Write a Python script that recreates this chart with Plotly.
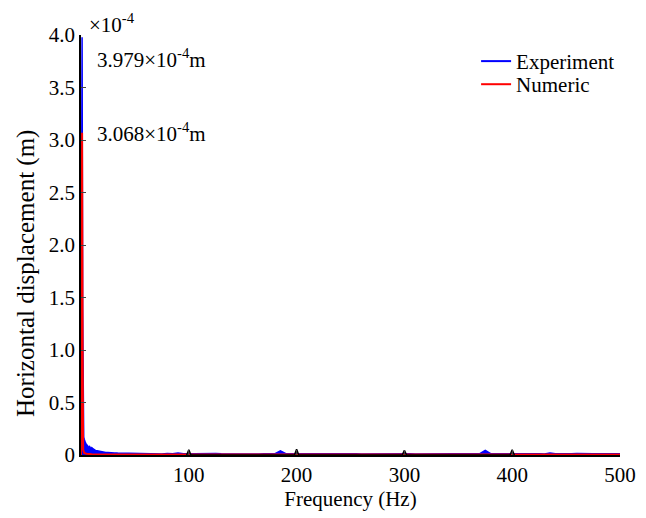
import plotly.graph_objects as go

# ---- data (displacement in units of 1e-4 m) ----
exp_freq = [0, 0.5, 1.0, 1.5, 2, 2.5, 3, 3.5, 4, 5, 6, 7, 8, 9, 10, 11, 12, 13, 14, 15,
            17, 19, 21, 23, 25, 28, 31, 34, 37, 40,
            45, 50, 55, 60, 65, 70, 75, 80, 85, 90, 95, 105, 110, 115, 120, 125, 130, 135,
            140, 145, 150, 155, 160, 165, 170, 175, 180, 185, 187, 190, 195, 205, 210, 215,
            220, 225, 230, 235, 240, 245, 250, 255, 260, 265, 270, 275, 280, 285, 290, 295,
            305, 310, 315, 320, 325, 330, 335, 340, 345, 350, 355, 360, 365, 370, 375, 380,
            385, 390, 395, 405, 410, 415, 420, 425, 430, 435, 440, 445, 450, 455, 460, 465,
            470, 475, 480, 485, 490, 495, 500]
exp_disp = [0.0, 1.2, 3.979, 1.4, 0.19, 0.17, 0.15, 0.13, 0.12, 0.10, 0.09, 0.07, 0.08, 0.06,
            0.07, 0.06, 0.05, 0.045, 0.04, 0.04,
            0.035, 0.03, 0.03, 0.025, 0.025, 0.02, 0.02, 0.018, 0.017, 0.016,
            0.014, 0.012, 0.015, 0.011, 0.013, 0.012, 0.010, 0.014, 0.011, 0.02, 0.012, 0.011,
            0.013, 0.010, 0.012, 0.015, 0.011, 0.010, 0.012, 0.013, 0.010, 0.011, 0.012,
            0.010, 0.011, 0.012, 0.013, 0.040, 0.030, 0.012, 0.011, 0.012, 0.010, 0.013,
            0.011, 0.010, 0.012, 0.011, 0.010, 0.013, 0.011, 0.012, 0.010, 0.011, 0.012,
            0.010, 0.011, 0.013, 0.010, 0.011, 0.012, 0.010, 0.011, 0.013, 0.010, 0.012,
            0.011, 0.010, 0.012, 0.011, 0.013, 0.010, 0.011, 0.012, 0.045, 0.012, 0.011,
            0.010, 0.012, 0.011, 0.010, 0.012, 0.011, 0.013, 0.010, 0.020, 0.011, 0.012,
            0.010, 0.011, 0.015, 0.012, 0.010, 0.011, 0.013, 0.010, 0.011, 0.012, 0.011]

harm_freq = [98, 100, 102, 198, 200, 202, 298, 300, 302, 398, 400, 402]
harm_disp = [0.0, 0.05, 0.0, 0.0, 0.055, 0.0, 0.0, 0.045, 0.0, 0.0, 0.05, 0.0]

num_freq = [0, 0.5, 1.0, 1.5, 2, 3, 5, 10, 20, 50, 100, 150, 200, 250, 300, 350, 400, 450, 500]
num_disp = [0.0, 1.5, 3.068, 1.0, 0.05, 0.02, 0.012, 0.008, 0.006, 0.005, 0.005, 0.005,
            0.005, 0.005, 0.005, 0.005, 0.005, 0.005, 0.005]

y_ticks = [0, 0.5, 1.0, 1.5, 2.0, 2.5, 3.0, 3.5, 4.0]
y_tick_text = ["0", "0.5", "1.0", "1.5", "2.0", "2.5", "3.0", "3.5", "4.0"]
x_ticks = [100, 200, 300, 400, 500]

FONT = "Liberation Serif"
FS = 21

fig = go.Figure()
fig.add_trace(go.Scatter(x=exp_freq, y=exp_disp, mode="lines", name="Experiment",
                         showlegend=False, legendgroup="exp",
                         line=dict(color="#0000ff", width=1.5), fill="tozeroy",
                         fillcolor="#0000ff"))
fig.add_trace(go.Scatter(x=[None], y=[None], mode="lines", name="Experiment",
                         legendgroup="exp", legend="legend",
                         line=dict(color="#0000ff", width=2)))
fig.add_trace(go.Scatter(x=num_freq, y=num_disp, mode="lines", name="Numeric",
                         legend="legend2", line=dict(color="#ff0000", width=2)))
fig.add_trace(go.Scatter(x=harm_freq, y=harm_disp, mode="lines", showlegend=False,
                         line=dict(color="#000000", width=1.5)))

fig.add_annotation(text="3.979×10<sup>-4</sup>m", x=0.026, xref="paper", y=3.78, yref="y",
                   xanchor="left", yanchor="middle", showarrow=False,
                   font=dict(family=FONT, size=FS, color="black"))
fig.add_annotation(text="3.068×10<sup>-4</sup>m", x=0.026, xref="paper", y=3.07, yref="y",
                   xanchor="left", yanchor="middle", showarrow=False,
                   font=dict(family=FONT, size=FS, color="black"))
fig.add_annotation(text="×10<sup>-4</sup>", x=0.012, xref="paper", y=1.0, yref="paper",
                   xanchor="left", yanchor="bottom", showarrow=False, yshift=-4,
                   font=dict(family=FONT, size=FS, color="black"))
# y-axis title
fig.add_annotation(text="Horizontal displacement (m)", x=0, xref="paper", xshift=-55,
                   y=0.431, yref="paper", textangle=-90, showarrow=False,
                   xanchor="center", yanchor="middle",
                   font=dict(family=FONT, size=25, color="black"))

leg_common = dict(xanchor="left", yanchor="middle", bgcolor="rgba(0,0,0,0)",
                  font=dict(family=FONT, size=FS), itemwidth=30)
fig.update_layout(
    width=646, height=518,
    margin=dict(l=73, r=34, t=27, b=71),
    paper_bgcolor="white", plot_bgcolor="white",
    font=dict(family=FONT, size=FS, color="black"),
    showlegend=True,
    legend=dict(x=0.733, y=0.937, **leg_common),
    legend2=dict(x=0.733, y=0.882, **leg_common),
    xaxis=dict(range=[0, 500], tickvals=x_ticks, ticks="inside", ticklen=5,
               showline=True, linecolor="black", linewidth=1.5, showgrid=False,
               zeroline=False, mirror=False, automargin=False,
               title=dict(text="Frequency (Hz)", font=dict(family=FONT, size=FS), standoff=4),
               tickfont=dict(family=FONT, size=FS)),
    yaxis=dict(range=[0, 4.0], tickvals=y_ticks, ticktext=y_tick_text, ticks="inside",
               ticklen=5, showline=True, linecolor="black", linewidth=1.5, showgrid=False,
               zeroline=False, automargin=False,
               tickfont=dict(family=FONT, size=FS)),
)

fig.write_html("out.html")
